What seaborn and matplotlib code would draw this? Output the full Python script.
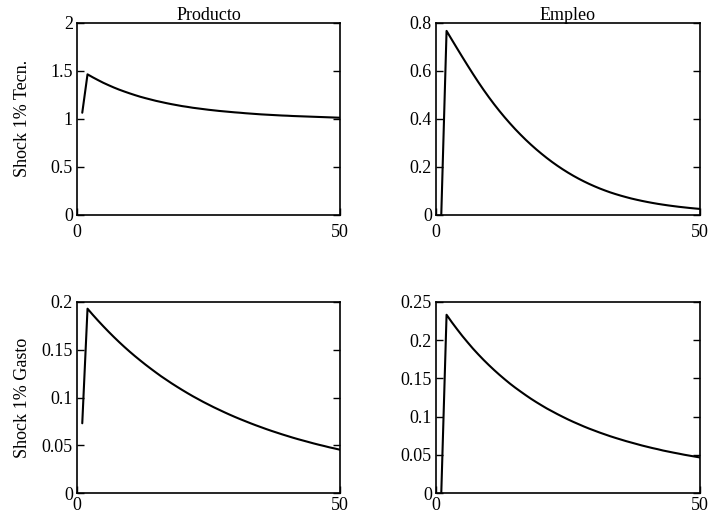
import matplotlib
matplotlib.use("Agg")
import matplotlib.pyplot as plt
from matplotlib.ticker import FuncFormatter, FixedLocator
import seaborn as sns
import pandas as pd

# Impulse responses over 50 periods
periods = list(range(1, 51))

# 1% technology shock
producto_tecn = [
    1.06, 1.460, 1.429, 1.400, 1.372, 1.347, 1.323, 1.301, 1.281, 1.262,
    1.244, 1.227, 1.212, 1.198, 1.184, 1.172, 1.160, 1.149, 1.139, 1.129,
    1.121, 1.112, 1.105, 1.098, 1.091, 1.085, 1.079, 1.074, 1.069, 1.064,
    1.060, 1.055, 1.051, 1.047, 1.043, 1.040, 1.037, 1.034, 1.031, 1.029,
    1.026, 1.024, 1.022, 1.020, 1.018, 1.016, 1.014, 1.012, 1.010, 1.008,
]
empleo_tecn = [
    0.0, 0.765, 0.7283, 0.6919, 0.6559, 0.6205, 0.5858, 0.5521, 0.5198, 0.4890,
    0.4596, 0.4317, 0.4051, 0.3799, 0.3557, 0.3330, 0.3112, 0.2907, 0.2712, 0.2528,
    0.2352, 0.2186, 0.2030, 0.1883, 0.1745, 0.1615, 0.1494, 0.1381, 0.1275, 0.1177,
    0.1085, 0.1001, 0.0922, 0.0851, 0.0785, 0.0724, 0.0666, 0.0615, 0.0567, 0.0523,
    0.0482, 0.0444, 0.0410, 0.0378, 0.0349, 0.0321, 0.0297, 0.0273, 0.0252, 0.0232,
]

# 1% government spending shock
producto_gasto = [
    0.073, 0.1930, 0.1866, 0.1805, 0.1746, 0.1689, 0.1634, 0.1581, 0.1530, 0.1481,
    0.1434, 0.1389, 0.1345, 0.1303, 0.1262, 0.1222, 0.1185, 0.1148, 0.1113, 0.1079,
    0.1046, 0.1014, 0.0984, 0.0954, 0.0926, 0.0898, 0.0872, 0.0846, 0.0821, 0.0797,
    0.0774, 0.0752, 0.0730, 0.0709, 0.0689, 0.0669, 0.0650, 0.0632, 0.0614, 0.0597,
    0.0580, 0.0564, 0.0549, 0.0534, 0.0519, 0.0505, 0.0492, 0.0478, 0.0466, 0.0453,
]
empleo_gasto = [
    0.0, 0.2333, 0.2235, 0.2143, 0.2054, 0.1971, 0.1890, 0.1815, 0.1743, 0.1675,
    0.1610, 0.1548, 0.1489, 0.1432, 0.1379, 0.1329, 0.1280, 0.1233, 0.1189, 0.1147,
    0.1106, 0.1069, 0.1032, 0.0997, 0.0963, 0.0931, 0.0901, 0.0871, 0.0843, 0.0817,
    0.0791, 0.0767, 0.0743, 0.0721, 0.0700, 0.0679, 0.0660, 0.0641, 0.0622, 0.0605,
    0.0588, 0.0573, 0.0556, 0.0542, 0.0528, 0.0515, 0.0501, 0.0489, 0.0477, 0.0465,
]

col_titles = ["Producto", "Empleo"]
row_labels = ["Shock 1% Tecn.", "Shock 1% Gasto"]
x_ticks = [0, 50]
y_ticks = [
    [0, 0.5, 1, 1.5, 2],
    [0, 0.2, 0.4, 0.6, 0.8],
    [0, 0.05, 0.1, 0.15, 0.2],
    [0, 0.05, 0.1, 0.15, 0.2, 0.25],
]
series = [producto_tecn, empleo_tecn, producto_gasto, empleo_gasto]

sns.set_theme(style="white")
plt.rcParams["font.family"] = ["Liberation Serif", "DejaVu Serif"]

W, H = 711, 524
fig = plt.figure(figsize=(W / 100, H / 100), dpi=100)

# axes boxes in pixel coordinates: left, top, right, bottom
boxes = [
    (77, 22.5, 340, 214.5),
    (436, 22.5, 700, 214.5),
    (77, 302, 340, 493),
    (436, 302, 700, 493),
]

fs = 13
fmt = FuncFormatter(lambda v, p: f"{v:g}")
for i, (l, t, r, b) in enumerate(boxes):
    ax = fig.add_axes([l / W, 1 - b / H, (r - l) / W, (b - t) / H])
    df = pd.DataFrame({"t": periods, "v": series[i]})
    sns.lineplot(data=df, x="t", y="v", ax=ax, color="black", linewidth=1.5)
    ax.set_xlim(0, 50)
    ax.set_ylim(y_ticks[i][0], y_ticks[i][-1])
    ax.xaxis.set_major_locator(FixedLocator(x_ticks))
    ax.yaxis.set_major_locator(FixedLocator(y_ticks[i]))
    ax.xaxis.set_major_formatter(fmt)
    ax.yaxis.set_major_formatter(fmt)
    row, col = divmod(i, 2)
    ax.tick_params(axis="y", which="major", direction="in", left=True, right=True,
                   length=5, width=1, pad=3, labelsize=fs, colors="black")
    ax.tick_params(axis="x", which="major", direction="in", bottom=True, top=False,
                   length=5, width=1, pad=6.5 if row == 0 else 3,
                   labelsize=fs, colors="black")
    for s in ax.spines.values():
        s.set_visible(True)
        s.set_color("black")
        s.set_linewidth(1.2)
    ax.set_xlabel("")
    if col == 0:
        ax.set_ylabel(row_labels[row], fontsize=fs, color="black")
        ax.yaxis.set_label_coords(-0.175, 0.5)
    else:
        ax.set_ylabel("")
    if row == 0:
        ax.set_title(col_titles[col], fontsize=fs, pad=2, color="black")

fig.savefig("out.png", dpi=100, facecolor="white")
